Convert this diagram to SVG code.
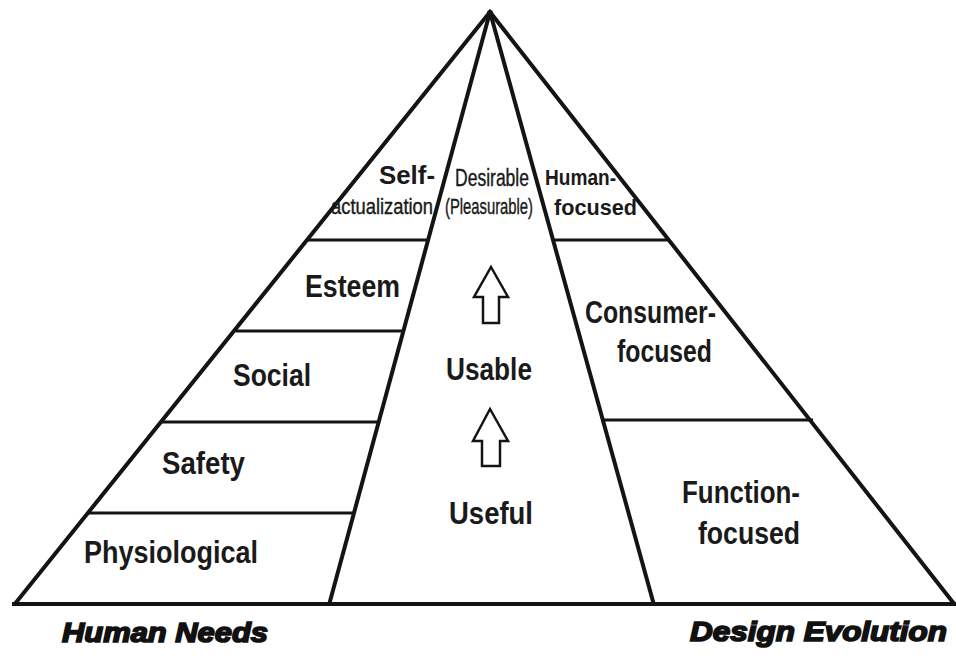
<svg xmlns="http://www.w3.org/2000/svg" width="956" height="656" viewBox="0 0 956 656">
<style>
.ln{stroke:#141414;stroke-width:4;fill:none;stroke-linecap:butt}
.hl{stroke:#141414;stroke-width:3;fill:none}
.b{font-family:"Liberation Sans",Arial,sans-serif;font-weight:bold;fill:#1a1a1a}
.r{font-family:"Liberation Sans",Arial,sans-serif;font-weight:normal;fill:#1a1a1a;stroke:#1a1a1a;stroke-width:0.4}
.ft{font-family:"Liberation Sans",Arial,sans-serif;font-weight:bold;font-style:italic;fill:#111;stroke:#111;stroke-width:1.7}
.ar{fill:#fff;stroke:#141414;stroke-width:2.5;stroke-linejoin:miter}
</style>
<rect width="956" height="656" fill="#fff"/>
<g id="connectors">
<polyline class="ln" points="14,605 490,12 955,605"/>
<line class="ln" x1="490" y1="12" x2="329" y2="605"/>
<line class="ln" x1="490" y1="12" x2="654" y2="605"/>
<line class="ln" x1="12" y1="604" x2="956" y2="604"/>
<line class="hl" x1="308" y1="240" x2="428" y2="240"/>
<line class="hl" x1="236" y1="331" x2="404" y2="331"/>
<line class="hl" x1="162" y1="422" x2="379" y2="422"/>
<line class="hl" x1="88" y1="513" x2="354" y2="513"/>
<line class="hl" x1="553" y1="240" x2="670" y2="240"/>
<line class="hl" x1="601" y1="420" x2="813" y2="420"/>
<circle cx="490" cy="13" r="3" fill="#141414"/>
</g>
<g id="self-actualization">
<text class="b" x="379" y="184" font-size="26" textLength="56" lengthAdjust="spacingAndGlyphs">Self-</text>
<text class="r" x="331" y="214" font-size="22" textLength="102" lengthAdjust="spacingAndGlyphs">actualization</text>
</g>
<g id="esteem"><text class="b" x="305" y="297" font-size="31" textLength="95" lengthAdjust="spacingAndGlyphs">Esteem</text></g>
<g id="social"><text class="b" x="233" y="386" font-size="31" textLength="78" lengthAdjust="spacingAndGlyphs">Social</text></g>
<g id="safety"><text class="b" x="162" y="474" font-size="31" textLength="83" lengthAdjust="spacingAndGlyphs">Safety</text></g>
<g id="physiological"><text class="b" x="84" y="563" font-size="31" textLength="174" lengthAdjust="spacingAndGlyphs">Physiological</text></g>
<g id="desirable">
<text class="r" x="455" y="186" font-size="23" textLength="74" lengthAdjust="spacingAndGlyphs">Desirable</text>
<text class="r" x="445" y="214" font-size="22" textLength="88" lengthAdjust="spacingAndGlyphs">(Pleasurable)</text>
</g>
<g id="arrow1"><polygon class="ar" points="491,267 508,297 499,297 499,323 483,323 483,297 474,297"/></g>
<g id="usable"><text class="b" x="446" y="380" font-size="31" textLength="86" lengthAdjust="spacingAndGlyphs">Usable</text></g>
<g id="arrow2"><polygon class="ar" points="490,409 508,441 500,441 500,466 482,466 482,441 473,441"/></g>
<g id="useful"><text class="b" x="449" y="524" font-size="31" textLength="84" lengthAdjust="spacingAndGlyphs">Useful</text></g>
<g id="human-focused">
<text class="b" x="545" y="185" font-size="22" textLength="71" lengthAdjust="spacingAndGlyphs">Human-</text>
<text class="b" x="554" y="215" font-size="22" textLength="83" lengthAdjust="spacingAndGlyphs">focused</text>
</g>
<g id="consumer-focused">
<text class="b" x="585" y="323" font-size="31" textLength="131" lengthAdjust="spacingAndGlyphs">Consumer-</text>
<text class="b" x="617" y="362" font-size="31" textLength="95" lengthAdjust="spacingAndGlyphs">focused</text>
</g>
<g id="function-focused">
<text class="b" x="682" y="503" font-size="31" textLength="118" lengthAdjust="spacingAndGlyphs">Function-</text>
<text class="b" x="698" y="544" font-size="31" textLength="102" lengthAdjust="spacingAndGlyphs">focused</text>
</g>
<g id="human-needs"><text class="ft" x="62" y="642" font-size="28" textLength="206" lengthAdjust="spacingAndGlyphs">Human Needs</text></g>
<g id="design-evolution"><text class="ft" x="690" y="641" font-size="28" textLength="257" lengthAdjust="spacingAndGlyphs">Design Evolution</text></g>
</svg>
